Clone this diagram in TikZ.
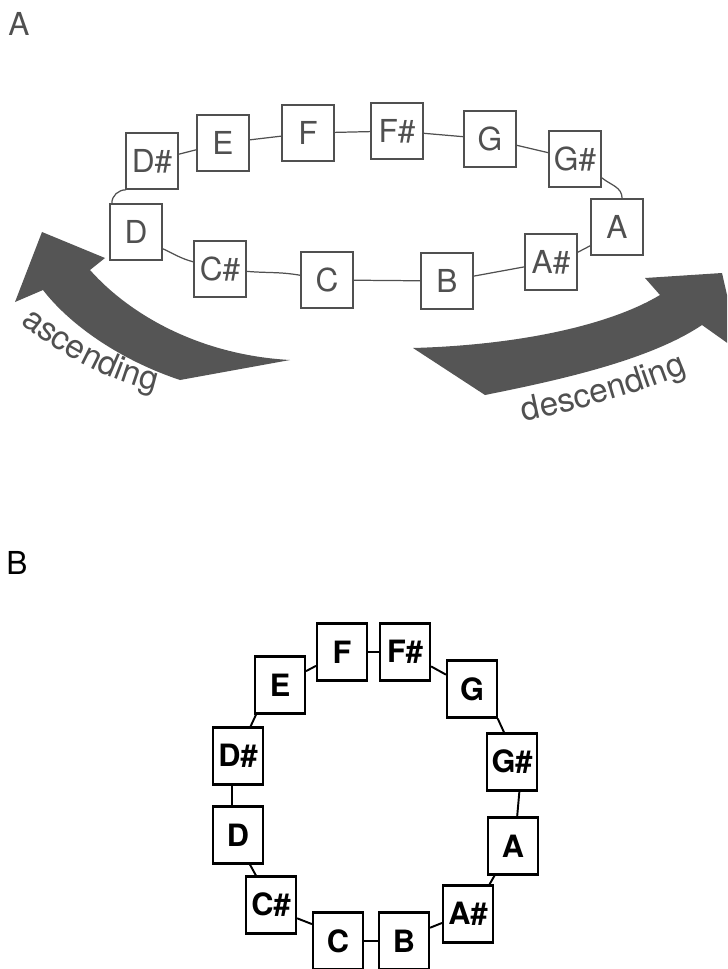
\documentclass[tikz,border=0pt]{standalone}
\usepackage{fontspec}
\setmainfont{TeX Gyre Heros}
\usetikzlibrary{decorations.text}

\definecolor{inkgray}{HTML}{505050}
\definecolor{arrowgray}{HTML}{555555}

\tikzset{
  notebox/.style={rectangle, draw=inkgray, line width=0.9pt, fill=white, text=inkgray,
    minimum width=1.04cm, minimum height=1.12cm, inner sep=0pt, font=\fontsize{18}{18}\selectfont},
  ringbox/.style={rectangle, draw=black, line width=1.2pt, fill=white, text=black,
    minimum width=1.0cm, minimum height=1.14cm, inner sep=0pt, font=\fontsize{17.5}{18}\selectfont\bfseries},
  noteline/.style={draw=inkgray, line width=0.7pt},
  ringline/.style={draw=black, line width=1.1pt},
  bigarrow/.style={fill=arrowgray, draw=none},
  panellabel/.style={font=\fontsize{18}{18}\selectfont, inner sep=0pt},
}

\begin{document}
\begin{tikzpicture}[x=0.02cm, y=-0.02cm]
      \useasboundingbox (0,0) rectangle (727,969);
      \clip (0,0) rectangle (727,969);

      %%%%% A)
      \node[panellabel, text=inkgray] (labA) at (19,24) {A};

      % arrows
      \fill[bigarrow] (42,232) -- (105,258) -- (90,270)
        .. controls (130,315) and (200,355) .. (290,360)
        -- (180,380) .. controls (120,360) and (70,325) .. (43,290)
        -- (15,302) -- cycle;
      \fill[bigarrow] (413,348) -- (485,395)
        .. controls (560,380) and (650,360) .. (702,325)
        -- (740,352) -- (722,273) -- (645,278) -- (660,295)
        .. controls (610,325) and (520,345) .. (413,348) -- cycle;

      % arrow texts
      \path[decorate, decoration={text along path, text align=center, text color=inkgray,
        text={|\fontsize{19}{19}\selectfont|ascending}}]
        (5,310) .. controls (50,350) and (110,385) .. (175,395);
      \path[decorate, decoration={text along path, text align=center, text color=inkgray,
        text={|\fontsize{19}{19}\selectfont|descending}}]
        (505,425) .. controls (570,412) and (640,395) .. (705,365);

      % notes
      \node[notebox] (Ds) at (152,161) {D\#};
      \node[notebox] (E)  at (223,143) {E};
      \node[notebox] (F)  at (308,133) {F};
      \node[notebox] (Fs) at (397,131) {F\#};
      \node[notebox] (G)  at (490,139) {G};
      \node[notebox] (Gs) at (575,159) {G\#};
      \node[notebox] (A)  at (617,227) {A};
      \node[notebox] (As) at (551,262) {A\#};
      \node[notebox] (B)  at (447,281) {B};
      \node[notebox] (C)  at (327,280) {C};
      \node[notebox] (Cs) at (220,269) {C\#};
      \node[notebox] (D)  at (136,232) {D};

      % links
      \draw[noteline] (Ds) -- (E);
      \draw[noteline] (E) -- (F);
      \draw[noteline] (F) -- (Fs);
      \draw[noteline] (Fs) -- (G);
      \draw[noteline] (G) -- (Gs);
      \draw[noteline] (Gs.-35) to[out=-40, in=90] (A.80);
      \draw[noteline] (A.-145) -- (As.20);
      \draw[noteline] (As) -- (B);
      \draw[noteline] (B) -- (C);
      \draw[noteline] (C) to[out=170, in=-5] (Cs);
      \draw[noteline] (Cs.165) to[out=165, in=-25] (D.-32);
      \draw[noteline] (Ds.-132) to[out=180, in=90] (D.130);

      %%%%% B)
      \node[panellabel, text=black] (labB) at (17,563) {B};

      % notes
      \node[ringbox] (bF)  at (342,652) {F};
      \node[ringbox] (bFs) at (405,652) {F\#};
      \node[ringbox] (bG)  at (472,689) {G};
      \node[ringbox] (bGs) at (512,762) {G\#};
      \node[ringbox] (bA)  at (513,846) {A};
      \node[ringbox] (bAs) at (468,914) {A\#};
      \node[ringbox] (bB)  at (404,941) {B};
      \node[ringbox] (bC)  at (338,941) {C};
      \node[ringbox] (bCs) at (271,905) {C\#};
      \node[ringbox] (bD)  at (238,835) {D};
      \node[ringbox] (bDs) at (238,756) {D\#};
      \node[ringbox] (bE)  at (280,685) {E};

      % links
      \draw[ringline] (bE) -- (bF);
      \draw[ringline] (bF) -- (bFs);
      \draw[ringline] (bFs) -- (bG);
      \draw[ringline] (bG.-49) -- (bGs.105);
      \draw[ringline] (bGs.-76) -- (bA.82);
      \draw[ringline] (bA.-122) -- (bAs.54);
      \draw[ringline] (bAs.-161) -- (bB.27);
      \draw[ringline] (bB) -- (bC);
      \draw[ringline] (bC.147) -- (bCs.-27);
      \draw[ringline] (bCs.117) -- (bD.-68);
      \draw[ringline] (bD.102) -- (bDs.-102);
      \draw[ringline] (bDs.67) -- (bE.-129);
\end{tikzpicture}
\end{document}
